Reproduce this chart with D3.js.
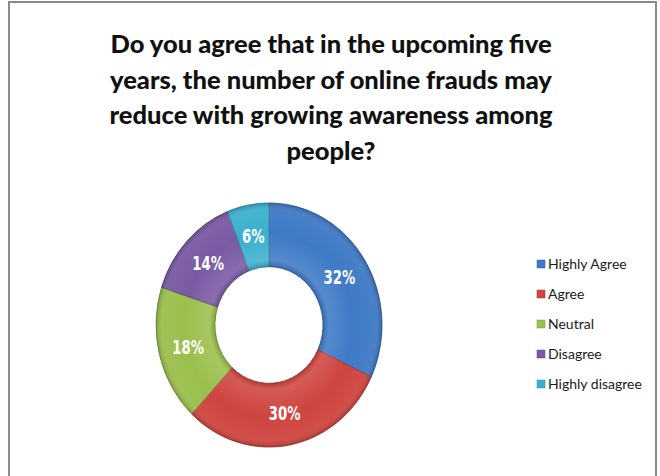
<!DOCTYPE html>
<html><head><meta charset="utf-8">
<script src="https://cdn.jsdelivr.net/npm/d3@7"></script>
<style>body{margin:0;background:#fff}svg{display:block}</style>
</head><body><svg id="c" width="660" height="476"></svg>
<script>
const titleLines = ["Do you agree that in the upcoming five","years, the number of online frauds may","reduce with growing awareness among","people?"];
const categories = ["Highly Agree","Agree","Neutral","Disagree","Highly disagree"];
const values = [32,30,18,14,6];
const colors = ["#3f7ac6","#cf4540","#9bbf4c","#7a5aa4","#3cb0cd"];

const svg = d3.select("#c");
const defs = svg.append("defs");

// border
svg.append("rect").attr("x",9).attr("y",2).attr("width",647).attr("height",500)
  .attr("fill","#fff").attr("stroke","#8a8a8a").attr("stroke-width",2);

// title
svg.append("text").attr("x",331).attr("y",53)
  .attr("text-anchor","middle").attr("font-family","Lato, 'Open Sans', sans-serif")
  .attr("font-weight","900").attr("font-size",25.5).attr("fill","#111")
  .selectAll("tspan").data(titleLines).join("tspan")
  .attr("x",331).attr("dy",(d,i)=> i===0?0:35.5).text(d=>d);

// donut
const cx = 269, cy = 325, R = 113, r = 54, sy = 1.08;
const pie = d3.pie().sort(null).value(d=>d)(values);
const arc = d3.arc().innerRadius(r).outerRadius(R);
const g = svg.append("g").attr("transform",`translate(${cx},${cy}) scale(1,${sy})`);

// bevel gradient overlay
const rg = defs.append("radialGradient").attr("id","bev").attr("gradientUnits","userSpaceOnUse")
  .attr("cx",0).attr("cy",0).attr("r",R);
rg.append("stop").attr("offset",r/R).attr("stop-color","#000").attr("stop-opacity",0.15);
rg.append("stop").attr("offset",(r+6)/R).attr("stop-color","#fff").attr("stop-opacity",0.12);
rg.append("stop").attr("offset",0.75).attr("stop-color","#fff").attr("stop-opacity",0);
rg.append("stop").attr("offset",(R-7)/R).attr("stop-color","#fff").attr("stop-opacity",0.05);
rg.append("stop").attr("offset",1).attr("stop-color","#000").attr("stop-opacity",0.18);

g.selectAll("path.s").data(pie).join("path").attr("class","s")
  .attr("d",arc).attr("fill",(d,i)=>colors[i])
  .attr("stroke",(d,i)=>d3.color(colors[i]).darker(0.8)).attr("stroke-width",0.8);
g.selectAll("path.b").data(pie).join("path").attr("class","b")
  .attr("d",arc).attr("fill","url(#bev)");

const labArc = d3.arc().innerRadius((r+R)/2).outerRadius((r+R)/2);
svg.selectAll("text.lab").data(pie).join("text").attr("class","lab")
  .attr("transform",d=>`translate(${cx+labArc.centroid(d)[0]},${cy+labArc.centroid(d)[1]*sy}) scale(0.7,1)`)
  .attr("dy","0.36em").attr("text-anchor","middle")
  .attr("font-family","'DejaVu Sans',sans-serif")
  .attr("font-weight","bold")
  .attr("font-size",19).attr("fill","#fff")
  .text((d,i)=>values[i]+"%");

// legend
const leg = svg.append("g");
const ly = d3.scalePoint().domain(categories).range([264,384]);
leg.selectAll("rect").data(categories).join("rect")
  .attr("x",537).attr("y",d=>ly(d)-4).attr("width",8).attr("height",8)
  .attr("fill",(d,i)=>colors[i]).attr("stroke",(d,i)=>d3.color(colors[i]).darker(0.6)).attr("stroke-width",0.5);
leg.selectAll("text").data(categories).join("text")
  .attr("x",548).attr("y",d=>ly(d)).attr("dy","0.36em")
  .attr("font-family","Lato, 'Open Sans', sans-serif").attr("font-size",14).attr("fill","#1a1a1a")
  .text(d=>d);
</script></body></html>
